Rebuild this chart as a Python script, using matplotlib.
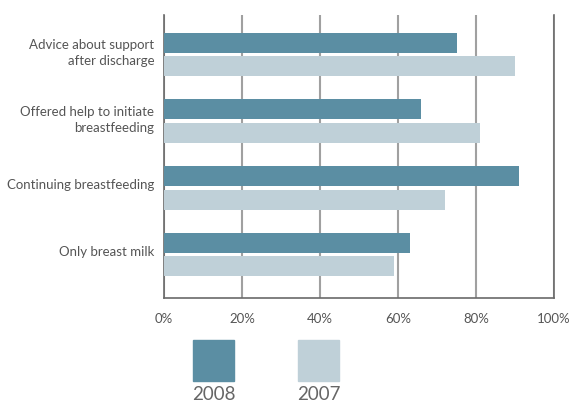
import numpy as np
import matplotlib
matplotlib.use("Agg")
import matplotlib.pyplot as plt
from matplotlib.patches import Rectangle

categories = ["Advice about support\nafter discharge",
              "Offered help to initiate\nbreastfeeding",
              "Continuing breastfeeding",
              "Only breast milk"]
vals_2008 = [75, 66, 91, 63]
vals_2007 = [90, 81, 72, 59]
series_labels = ["2008", "2007"]
xticks = [0, 20, 40, 60, 80, 100]

dark = "#5b8ea3"
light = "#bfd0d8"
txt = "#555555"

plt.rcParams['font.family'] = ['Lato', 'DejaVu Sans']

W, H = 571, 403
fig = plt.figure(figsize=(W / 100, H / 100), dpi=100)
ax = fig.add_axes([164 / W, 1 - 298 / H, (554 - 164) / W, (298 - 15) / H])

y = np.arange(len(categories))
h = 0.30
off = 0.176
ax.barh(y - off, vals_2008, height=h, color=dark, zorder=3)
ax.barh(y + off, vals_2007, height=h, color=light, zorder=3)

ax.set_xlim(0, 100)
ax.set_ylim(3.65, -0.59)
ax.set_xticks(xticks)
ax.set_xticklabels([f"{t}%" for t in xticks], fontsize=9.5, color=txt)
# labels sit a little above the group centre in the original
ax.set_yticks(y - 0.06)
ax.set_yticklabels(categories, fontsize=9.5, color=txt, linespacing=1.35)
ax.tick_params(axis='both', length=0)
ax.tick_params(axis='x', pad=11)
ax.tick_params(axis='y', pad=7)

ax.xaxis.grid(True, color="#a0a0a0", linewidth=1.5, zorder=0)
for s in ["left", "right", "bottom"]:
    ax.spines[s].set_color("#6a6a6a")
    ax.spines[s].set_linewidth(1.2)
ax.spines["top"].set_visible(False)

# legend boxes below the axis
for i, (lab, col) in enumerate(zip(series_labels, [dark, light])):
    x0 = [193, 298][i]
    fig.add_artist(Rectangle((x0 / W, 1 - 381 / H), 41 / W, 41 / H,
                             transform=fig.transFigure, color=col))
    fig.text((x0 + 20.5) / W, 1 - 395 / H, lab, ha="center", va="center",
             fontsize=13.5, color="#666666")

fig.savefig("out.png", dpi=100)
